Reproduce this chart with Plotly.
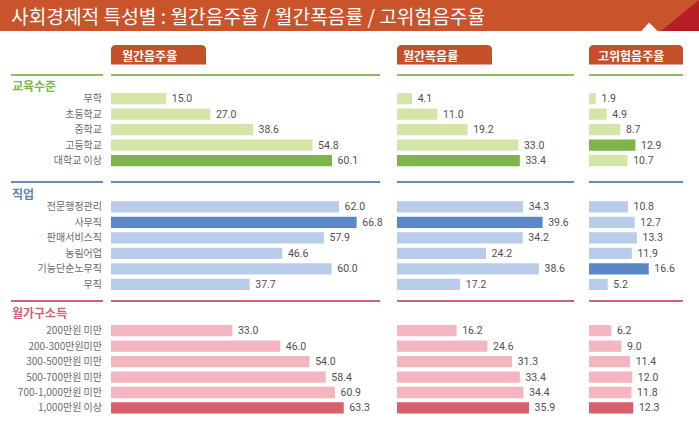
import plotly.graph_objects as go

# 데이터
edu_labels = ["무학", "초등학교", "중학교", "고등학교", "대학교 이상"]
edu_monthly = [15.0, 27.0, 38.6, 54.8, 60.1]
edu_binge = [4.1, 11.0, 19.2, 33.0, 33.4]
edu_highrisk = [1.9, 4.9, 8.7, 12.9, 10.7]

job_labels = ["전문행정관리", "사무직", "판매서비스직", "농림어업", "기능단순노무직", "무직"]
job_monthly = [62.0, 66.8, 57.9, 46.6, 60.0, 37.7]
job_binge = [34.3, 39.6, 34.2, 24.2, 38.6, 17.2]
job_highrisk = [10.8, 12.7, 13.3, 11.9, 16.6, 5.2]

inc_labels = ["200만원 미만", "200-300만원미만", "300-500만원 미만", "500-700만원 미만",
              "700-1,000만원 미만", "1,000만원 이상"]
inc_monthly = [33.0, 46.0, 54.0, 58.4, 60.9, 63.3]
inc_binge = [16.2, 24.6, 31.3, 33.4, 34.4, 35.9]
inc_highrisk = [6.2, 9.0, 11.4, 12.0, 11.8, 12.3]

section_names = ["교육수준", "직업", "월가구소득"]
panel_names = ["월간음주율", "월간폭음률", "고위험음주율"]
title_text = "사회경제적 특성별 : 월간음주율 / 월간폭음률 / 고위험음주율"

W, H = 699, 434
KR = "Noto Sans CJK KR"


def fx(px):
    return px / W


def fy(py):
    return 1 - py / H


sections = [
    (edu_labels, [edu_monthly, edu_binge, edu_highrisk],
     "#d3e6a8", "#7db44c", "#8cbd62", "#7db44c"),
    (job_labels, [job_monthly, job_binge, job_highrisk],
     "#b9cdea", "#5a87c5", "#6689b8", "#5b80b4"),
    (inc_labels, [inc_monthly, inc_binge, inc_highrisk],
     "#f3b5bf", "#d85f6b", "#c9636d", "#d85f6b"),
]

# 카테고리 순서 (섹션 사이 빈 줄 2개)
cat_order = edu_labels + ["_g1", "_g2"] + job_labels + ["_g3", "_g4"] + inc_labels
tick_vals = edu_labels + job_labels + inc_labels

# 패널 위치 (픽셀)
panel_x = [(111, 380), (397, 574), (589, 683)]
panel_range = [269 / 3.677, 177 / 3.677, 94 / 3.6]
axes = ["x", "x2", "x3"]

fig = go.Figure()

for labels, series, light, dark, _, _ in sections:
    for i, vals in enumerate(series):
        top = max(vals)
        colors = [dark if v == top else light for v in vals]
        fig.add_trace(go.Bar(
            y=labels, x=vals, orientation="h",
            xaxis=axes[i], yaxis="y",
            marker=dict(color=colors, line=dict(width=0)),
            text=vals, texttemplate="\u00a0%{x:.1f}",
            textposition="outside", cliponaxis=False, constraintext="none",
            textfont=dict(family="Roboto", size=10.5, color="#505050"),
            hoverinfo="skip", showlegend=False,
        ))

shapes = []
annotations = []

# 제목 띠
title_color = "#c9532b"
shapes.append(dict(type="rect", xref="paper", yref="paper", x0=0, x1=1,
                   y0=fy(31), y1=1, fillcolor=title_color, line=dict(width=0), layer="below"))
shapes.append(dict(type="path", xref="paper", yref="paper",
                   path=f"M {fx(661)} {fy(31)} L {fx(699)} {fy(31)} L {fx(699)} {fy(0)} Z",
                   fillcolor="#b91d24", line=dict(width=0)))
shapes.append(dict(type="path", xref="paper", yref="paper",
                   path=f"M {fx(641)} {fy(31.5)} L {fx(649)} {fy(22.5)} L {fx(658)} {fy(31.5)} Z",
                   fillcolor="white", line=dict(width=0)))
annotations.append(dict(text=title_text, xref="paper", yref="paper", x=fx(9), y=fy(16),
                        xanchor="left", yanchor="middle", showarrow=False,
                        font=dict(family=KR, size=19.2, color="white")))

# 탭
tab_pad = [9, 4, 7]
for (x0, x1), name, pad in zip([(111, 206), (397, 492), (589, 683)], panel_names, tab_pad):
    r = 5
    t, b = 45, 64.5
    path = (f"M {fx(x0)} {fy(b)} L {fx(x0)} {fy(t + r)} "
            f"Q {fx(x0)} {fy(t)} {fx(x0 + r)} {fy(t)} "
            f"L {fx(x1 - r)} {fy(t)} Q {fx(x1)} {fy(t)} {fx(x1)} {fy(t + r)} "
            f"L {fx(x1)} {fy(b)} Z")
    shapes.append(dict(type="path", xref="paper", yref="paper", path=path,
                       fillcolor="#c4502a", line=dict(width=0)))
    annotations.append(dict(text=f"<b>{name}</b>", xref="paper", yref="paper",
                            x=fx(x0 + pad), y=fy(55.5), xanchor="left", yanchor="middle",
                            showarrow=False, font=dict(family=KR, size=12, color="white")))

# 섹션 구분선과 제목
line_y = [75, 182, 301]
head_y = [85.7, 194, 312.7]
seg_x = [(11, 103)] + panel_x
for (labels, series, light, dark, lcol, hcol), ly, hy, name in zip(
        sections, line_y, head_y, section_names):
    for x0, x1 in seg_x:
        shapes.append(dict(type="line", xref="paper", yref="paper",
                           x0=fx(x0), x1=fx(x1), y0=fy(ly), y1=fy(ly),
                           line=dict(color=lcol, width=2)))
    annotations.append(dict(text=f"<b>{name}</b>", xref="paper", yref="paper",
                            x=fx(10), y=fy(hy), xanchor="left", yanchor="middle",
                            showarrow=False, font=dict(family=KR, size=12, color=hcol)))

layout_axes = {}
for i, ax in enumerate(axes):
    key = "xaxis" if i == 0 else f"xaxis{i + 1}"
    x0, x1 = panel_x[i]
    layout_axes[key] = dict(domain=[fx(x0), fx(x1)], range=[0, panel_range[i]],
                            visible=False, anchor="y", fixedrange=True)

fig.update_layout(
    **layout_axes,
    yaxis=dict(domain=[fy(415.7), fy(91)], type="category",
               categoryorder="array", categoryarray=cat_order,
               range=[len(cat_order) - 0.5, -0.5],
               tickvals=tick_vals, ticktext=tick_vals,
               showgrid=False, zeroline=False, showline=False,
               ticks="", ticklabelstandoff=8,
               tickfont=dict(family=KR, size=10, color="#6a6a6a"),
               anchor="x", fixedrange=True),
    bargap=0.27,
    barmode="overlay",
    width=W, height=H,
    margin=dict(l=0, r=0, t=0, b=0),
    paper_bgcolor="white", plot_bgcolor="white",
    shapes=shapes, annotations=annotations,
)

# 브라우저 기본 여백 제거
fig.write_html("out.html", config={"displayModeBar": False},
               post_script="document.body.style.margin='0px';")
